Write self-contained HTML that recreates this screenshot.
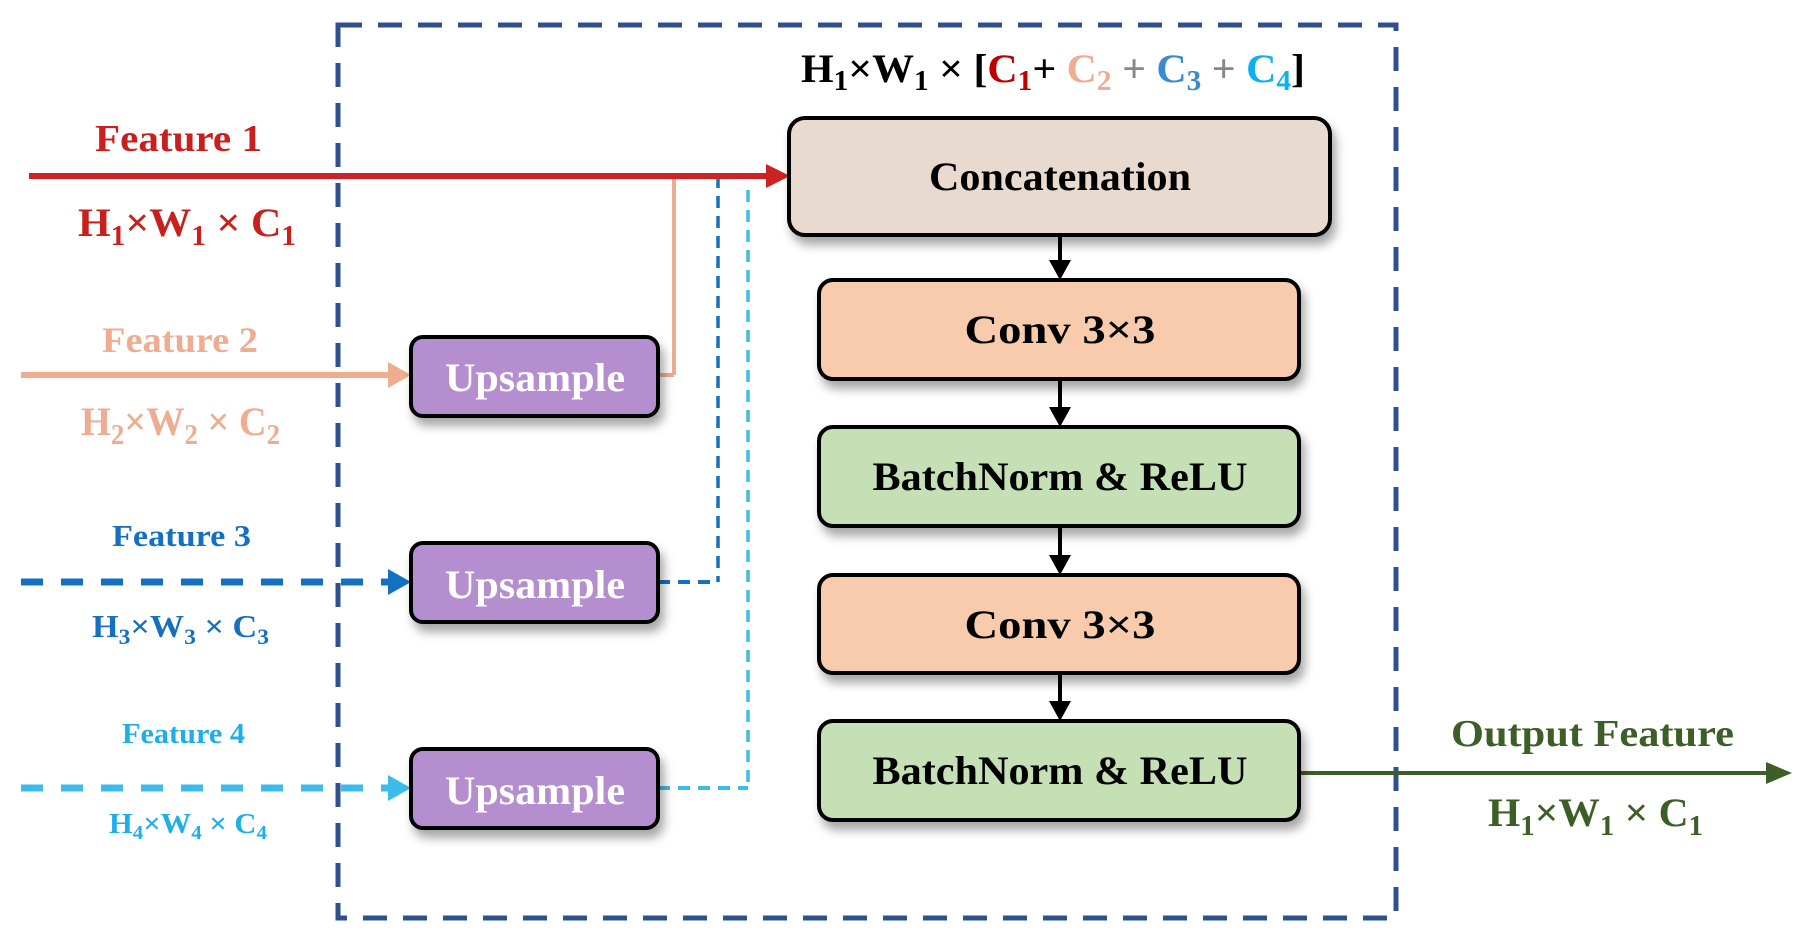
<!DOCTYPE html>
<html><head><meta charset="utf-8"><style>
html,body{margin:0;padding:0;background:#fff;}
svg{display:block;font-family:"Liberation Serif",serif;font-weight:bold;}
</style></head><body>
<svg width="1804" height="937" viewBox="0 0 1804 937" xmlns="http://www.w3.org/2000/svg">
<defs>
<filter id="sh" x="-10%" y="-20%" width="130%" height="160%"><feDropShadow dx="4" dy="8" stdDeviation="5" flood-color="#000" flood-opacity="0.35"/></filter>
</defs>
<rect x="338" y="25" width="1058" height="893" fill="none" stroke="#2f4f8f" stroke-width="5" stroke-dasharray="24,16"/>

<line x1="674" y1="176" x2="674" y2="375" stroke="#eeac90" stroke-width="4"/>
<line x1="658" y1="375" x2="674" y2="375" stroke="#eeac90" stroke-width="4"/>
<line x1="718" y1="176" x2="718" y2="582" stroke="#1670c0" stroke-width="3.5" stroke-dasharray="12,8"/>
<line x1="658" y1="582" x2="718" y2="582" stroke="#1670c0" stroke-width="4" stroke-dasharray="12,8"/>
<line x1="748" y1="190" x2="748" y2="788" stroke="#3dbbeb" stroke-width="3.5" stroke-dasharray="12,8"/>
<line x1="658" y1="788" x2="748" y2="788" stroke="#3dbbeb" stroke-width="4" stroke-dasharray="12,8"/>

<line x1="29" y1="176" x2="766" y2="176" stroke="#cc2424" stroke-width="6"/>
<polygon points="766,164 790,176 766,188" fill="#cc2424"/>
<line x1="21" y1="375" x2="390" y2="375" stroke="#eeac90" stroke-width="6"/>
<polygon points="388,362 411,375 388,388" fill="#eeac90"/>
<line x1="21" y1="582" x2="390" y2="582" stroke="#1670c0" stroke-width="7" stroke-dasharray="22,18"/>
<polygon points="388,569 411,582 388,595" fill="#1670c0"/>
<line x1="21" y1="788" x2="390" y2="788" stroke="#3dbbeb" stroke-width="7" stroke-dasharray="22,18"/>
<polygon points="388,775 411,788 388,801" fill="#3dbbeb"/>

<line x1="1299" y1="773" x2="1770" y2="773" stroke="#3d5e26" stroke-width="4"/>
<polygon points="1766,762 1792,773 1766,784" fill="#3d5e26"/>

<g stroke="#000" stroke-width="4">
<line x1="1060" y1="235" x2="1060" y2="262"/>
<line x1="1060" y1="379" x2="1060" y2="409"/>
<line x1="1060" y1="526" x2="1060" y2="557"/>
<line x1="1060" y1="673" x2="1060" y2="703"/>
</g>
<g fill="#000">
<polygon points="1049,260 1071,260 1060,280"/>
<polygon points="1049,407 1071,407 1060,427"/>
<polygon points="1049,555 1071,555 1060,575"/>
<polygon points="1049,701 1071,701 1060,721"/>
</g>

<g stroke="#000" stroke-width="4" filter="url(#sh)">
<rect x="789" y="118" width="541" height="117" rx="16" fill="#e8dace"/>
<rect x="819" y="280" width="480" height="99" rx="14" fill="#f7cbac"/>
<rect x="819" y="427" width="480" height="99" rx="14" fill="#c5e0b4"/>
<rect x="819" y="575" width="480" height="98" rx="14" fill="#f7cbac"/>
<rect x="819" y="721" width="480" height="99" rx="14" fill="#c5e0b4"/>
<rect x="411" y="337" width="247" height="79" rx="12" fill="#b48ece"/>
<rect x="411" y="543" width="247" height="79" rx="12" fill="#b48ece"/>
<rect x="411" y="749" width="247" height="79" rx="12" fill="#b48ece"/>
</g>

<g font-size="40" text-anchor="middle" fill="#000">
<text x="1060" y="190" textLength="262" lengthAdjust="spacingAndGlyphs">Concatenation</text>
<text x="1060" y="343" textLength="191" lengthAdjust="spacingAndGlyphs">Conv 3×3</text>
<text x="1060" y="490" textLength="375" lengthAdjust="spacingAndGlyphs">BatchNorm &amp; ReLU</text>
<text x="1060" y="638" textLength="191" lengthAdjust="spacingAndGlyphs">Conv 3×3</text>
<text x="1060" y="784" textLength="375" lengthAdjust="spacingAndGlyphs">BatchNorm &amp; ReLU</text>
</g>
<g font-size="40" text-anchor="middle" fill="#fff">
<text x="535" y="391" textLength="180" lengthAdjust="spacingAndGlyphs">Upsample</text>
<text x="535" y="598" textLength="180" lengthAdjust="spacingAndGlyphs">Upsample</text>
<text x="535" y="804" textLength="180" lengthAdjust="spacingAndGlyphs">Upsample</text>
</g>

<text x="95" y="151" font-size="38" fill="#c8201e" textLength="167" lengthAdjust="spacingAndGlyphs">Feature 1</text>
<text x="78" y="236" font-size="40" fill="#c8201e" textLength="218" lengthAdjust="spacingAndGlyphs">H<tspan font-size="28" dy="9">1</tspan><tspan dy="-9">×W</tspan><tspan font-size="28" dy="9">1</tspan><tspan dy="-9"> × C</tspan><tspan font-size="28" dy="9">1</tspan></text>
<text x="102" y="352" font-size="36" fill="#eeac90" textLength="156" lengthAdjust="spacingAndGlyphs">Feature 2</text>
<text x="81" y="435" font-size="40" fill="#eeac90" textLength="199" lengthAdjust="spacingAndGlyphs">H<tspan font-size="28" dy="9">2</tspan><tspan dy="-9">×W</tspan><tspan font-size="28" dy="9">2</tspan><tspan dy="-9"> × C</tspan><tspan font-size="28" dy="9">2</tspan></text>
<text x="112" y="546" font-size="31" fill="#1670c0" textLength="139" lengthAdjust="spacingAndGlyphs">Feature 3</text>
<text x="92" y="637" font-size="32" fill="#1670c0" textLength="177" lengthAdjust="spacingAndGlyphs">H<tspan font-size="22" dy="7">3</tspan><tspan dy="-7">×W</tspan><tspan font-size="22" dy="7">3</tspan><tspan dy="-7"> × C</tspan><tspan font-size="22" dy="7">3</tspan></text>
<text x="122" y="743" font-size="28" fill="#1eaee8" textLength="123" lengthAdjust="spacingAndGlyphs">Feature 4</text>
<text x="109" y="833" font-size="29" fill="#1eaee8" textLength="158" lengthAdjust="spacingAndGlyphs">H<tspan font-size="20" dy="6">4</tspan><tspan dy="-6">×W</tspan><tspan font-size="20" dy="6">4</tspan><tspan dy="-6"> × C</tspan><tspan font-size="20" dy="6">4</tspan></text>

<text x="801" y="82" font-size="40" fill="#000" textLength="504" lengthAdjust="spacingAndGlyphs">H<tspan font-size="28" dy="8">1</tspan><tspan dy="-8">×W</tspan><tspan font-size="28" dy="8">1</tspan><tspan dy="-8"> × [</tspan><tspan fill="#c00000">C</tspan><tspan fill="#c00000" font-size="28" dy="8">1</tspan><tspan dy="-8">+ </tspan><tspan fill="#eeac90">C</tspan><tspan fill="#eeac90" font-size="28" dy="8">2</tspan><tspan dy="-8" fill="#888"> + </tspan><tspan fill="#3a8ad0">C</tspan><tspan fill="#3a8ad0" font-size="28" dy="8">3</tspan><tspan dy="-8" fill="#888"> + </tspan><tspan fill="#0ab0f0">C</tspan><tspan fill="#0ab0f0" font-size="28" dy="8">4</tspan><tspan dy="-8">]</tspan></text>

<text x="1451" y="746" font-size="38" fill="#3d5e26" textLength="283" lengthAdjust="spacingAndGlyphs">Output Feature</text>
<text x="1488" y="826" font-size="40" fill="#3d5e26" textLength="215" lengthAdjust="spacingAndGlyphs">H<tspan font-size="28" dy="9">1</tspan><tspan dy="-9">×W</tspan><tspan font-size="28" dy="9">1</tspan><tspan dy="-9"> × C</tspan><tspan font-size="28" dy="9">1</tspan></text>
</svg>
</body></html>
